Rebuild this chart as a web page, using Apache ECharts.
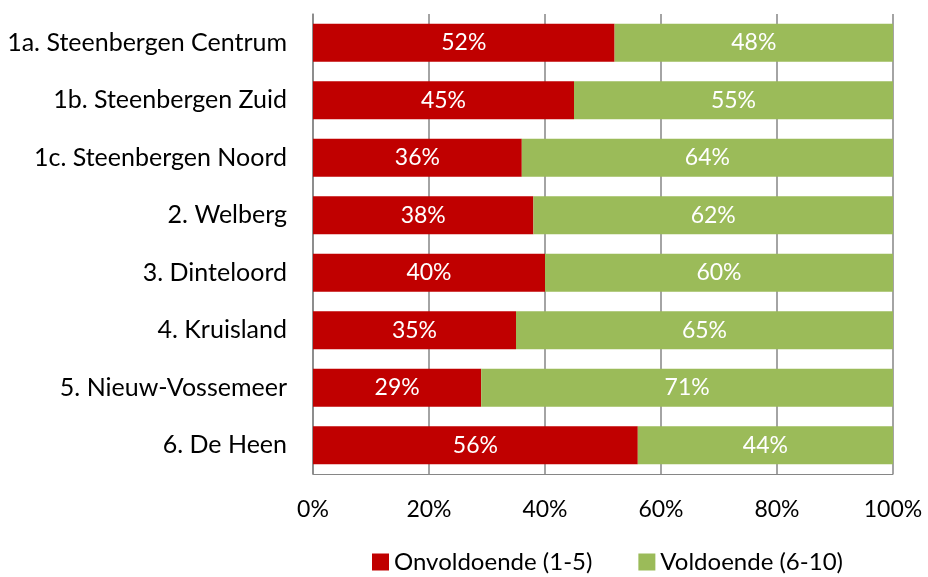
<!DOCTYPE html>
<html>
<head>
<meta charset="utf-8">
<script src="https://cdn.jsdelivr.net/npm/echarts@6/dist/echarts.min.js"></script>
<style>
  html, body { margin: 0; padding: 0; background: #fff; }
  #chart { width: 928px; height: 577px; }
</style>
</head>
<body>
<div id="chart"></div>
<script>
var categories = ['1a. Steenbergen Centrum', '1b. Steenbergen Zuid', '1c. Steenbergen Noord',
                  '2. Welberg', '3. Dinteloord', '4. Kruisland', '5. Nieuw-Vossemeer', '6. De Heen'];
var onvoldoende = [52, 45, 36, 38, 40, 35, 29, 56];
var voldoende = [48, 55, 64, 62, 60, 65, 71, 44];
var seriesNames = ['Onvoldoende (1-5)', 'Voldoende (6-10)'];

var font = 'Lato, Open Sans, sans-serif';
var fs = 23;   // numbers
var fsText = 25; // category names
var myChart = echarts.init(document.getElementById('chart'));
myChart.setOption({
    animation: false,
    textStyle: { fontFamily: font },
    grid: { left: 313, right: 35, top: 14, bottom: 103 },
    legend: {
        left: 367,
        top: 550,
        padding: [0, 5],
        itemWidth: 17,
        itemHeight: 17,
        itemGap: 46,
        icon: 'rect',
        textStyle: { fontSize: 24, color: '#000', fontFamily: font },
        data: seriesNames
    },
    xAxis: {
        type: 'value',
        min: 0,
        max: 100,
        interval: 20,
        axisLine: { show: true, lineStyle: { color: '#868686' } },
        axisTick: { show: false },
        splitLine: { show: true, lineStyle: { color: '#868686', width: 1.5 } },
        axisLabel: { formatter: '{value}%', fontSize: fs, color: '#000', margin: 24, fontFamily: font }
    },
    yAxis: {
        type: 'category',
        inverse: true,
        data: categories,
        axisLine: { show: true, lineStyle: { color: '#868686', width: 1.5 } },
        axisTick: { show: false },
        axisLabel: { fontSize: fsText, color: '#000', margin: 26, fontFamily: font }
    },
    series: [
        {
            name: seriesNames[0],
            type: 'bar',
            stack: 'total',
            barWidth: '66%',
            itemStyle: { color: '#C00000' },
            label: { show: true, position: 'inside', formatter: '{c}%', color: '#fff', fontSize: fs, fontFamily: font },
            data: onvoldoende
        },
        {
            name: seriesNames[1],
            type: 'bar',
            stack: 'total',
            barWidth: '66%',
            itemStyle: { color: '#9BBB59' },
            label: { show: true, position: 'inside', formatter: '{c}%', color: '#fff', fontSize: fs, fontFamily: font },
            data: voldoende
        }
    ]
});
</script>
</body>
</html>
